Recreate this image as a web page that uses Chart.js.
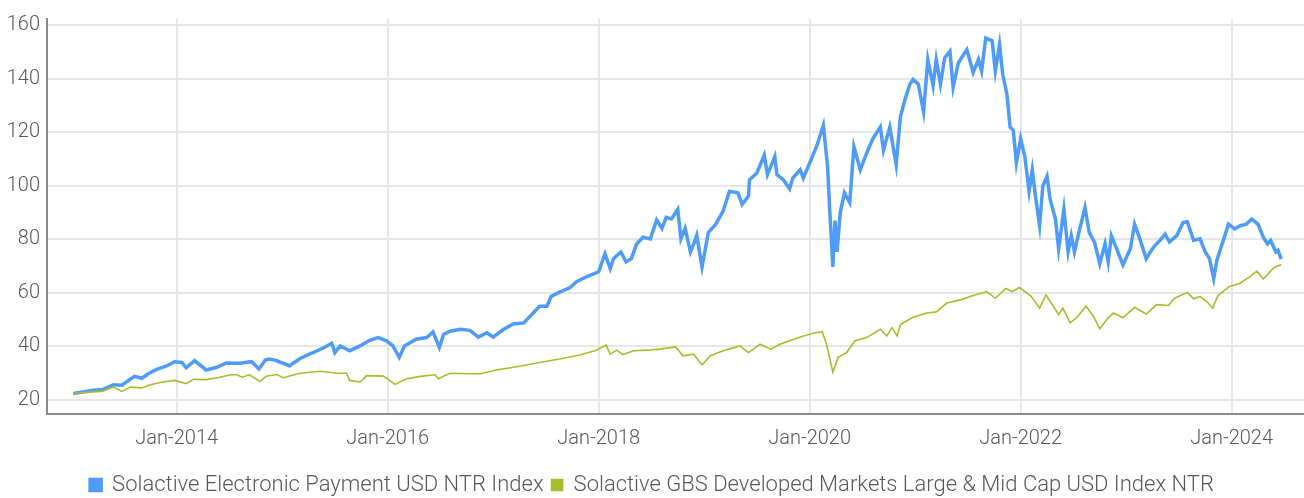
<!DOCTYPE html>
<html>
<head>
<meta charset="utf-8">
<title>Solactive Electronic Payment vs GBS DM</title>
<script src="https://cdn.jsdelivr.net/npm/chart.js@4.4.1/dist/chart.umd.min.js"></script>
<style>
  html, body { margin: 0; padding: 0; background: #fff; }
  #wrap { width: 1304px; height: 498px; position: relative; }
</style>
</head>
<body>
<div id="wrap"><canvas id="chart"></canvas></div>
<script>
// dates are decimal years
const blueDates = [
  2013.02, 2013.21, 2013.30, 2013.40, 2013.48, 2013.60, 2013.67, 2013.73, 2013.81, 2013.91,
  2013.98, 2014.05, 2014.09, 2014.17, 2014.28, 2014.38, 2014.47, 2014.60, 2014.71, 2014.78,
  2014.84, 2014.88, 2014.95, 2014.98, 2015.07, 2015.17, 2015.26, 2015.39, 2015.47, 2015.50,
  2015.55, 2015.64, 2015.74, 2015.83, 2015.91, 2015.99, 2016.05, 2016.11, 2016.16, 2016.27,
  2016.37, 2016.43, 2016.49, 2016.53, 2016.59, 2016.69, 2016.78, 2016.86, 2016.94, 2017.00,
  2017.10, 2017.19, 2017.29, 2017.38, 2017.44, 2017.51, 2017.55, 2017.63, 2017.73, 2017.79,
  2017.90, 2018.00, 2018.06, 2018.11, 2018.14, 2018.21, 2018.26, 2018.31, 2018.36, 2018.42,
  2018.49, 2018.55, 2018.60, 2018.64, 2018.69, 2018.75, 2018.78, 2018.82, 2018.87, 2018.90,
  2018.93, 2018.98, 2019.04, 2019.11, 2019.18, 2019.24, 2019.32, 2019.36, 2019.42, 2019.43,
  2019.50, 2019.57, 2019.60, 2019.67, 2019.69, 2019.75, 2019.81, 2019.84, 2019.91, 2019.94,
  2020.00, 2020.07, 2020.13, 2020.17, 2020.19, 2020.22, 2020.24, 2020.26, 2020.29, 2020.33,
  2020.38, 2020.42, 2020.48, 2020.54, 2020.60, 2020.67, 2020.70, 2020.76, 2020.82, 2020.86,
  2020.90, 2020.95, 2020.98, 2021.03, 2021.08, 2021.12, 2021.17, 2021.20, 2021.24, 2021.28,
  2021.33, 2021.36, 2021.41, 2021.49, 2021.55, 2021.60, 2021.63, 2021.67, 2021.73, 2021.76,
  2021.80, 2021.83, 2021.87, 2021.90, 2021.93, 2021.96, 2022.00, 2022.04, 2022.08, 2022.11,
  2022.14, 2022.18, 2022.21, 2022.25, 2022.28, 2022.33, 2022.36, 2022.41, 2022.45, 2022.48,
  2022.51, 2022.56, 2022.61, 2022.65, 2022.70, 2022.75, 2022.80, 2022.83, 2022.86, 2022.91,
  2022.97, 2023.04, 2023.08, 2023.13, 2023.19, 2023.26, 2023.32, 2023.37, 2023.41, 2023.48,
  2023.54, 2023.58, 2023.64, 2023.70, 2023.75, 2023.79, 2023.83, 2023.86, 2023.91, 2023.97,
  2024.03, 2024.08, 2024.14, 2024.19, 2024.25, 2024.30, 2024.34, 2024.37, 2024.42, 2024.44,
  2024.47
];
const blueValues = [
  22.3, 23.5, 23.8, 25.6, 25.4, 28.7, 28.0, 29.7, 31.3, 32.7,
  34.2, 33.9, 31.9, 34.6, 31.1, 32.1, 33.7, 33.6, 34.2, 31.5,
  34.8, 35.2, 34.6, 34.0, 32.7, 35.4, 37.0, 39.3, 41.1, 37.6,
  40.1, 38.3, 40.1, 42.2, 43.2, 42.0, 40.1, 35.8, 40.1, 42.6,
  43.2, 45.3, 39.5, 44.4, 45.6, 46.3, 45.9, 43.4, 45.0, 43.4,
  46.3, 48.3, 48.7, 52.4, 54.9, 54.9, 58.6, 60.2, 61.9, 64.1,
  66.2, 67.8, 74.5, 69.0, 72.7, 75.2, 71.5, 72.7, 78.2, 80.7,
  80.1, 87.2, 84.0, 88.1, 87.5, 91.1, 80.1, 84.0, 75.2, 78.0,
  81.5, 69.6, 82.5, 85.6, 90.5, 97.9, 97.3, 93.0, 96.1, 102.2,
  104.7, 111.4, 104.1, 110.8, 104.1, 102.2, 98.8, 102.8, 105.9, 102.8,
  108.4, 115.1, 122.5, 107.2, 91.1, 69.6, 86.9, 75.2, 89.9, 97.3,
  93.6, 114.5, 105.9, 112.1, 117.6, 121.9, 113.3, 121.9, 107.8, 125.6,
  131.7, 137.9, 139.7, 137.9, 127.5, 147.1, 137.3, 147.1, 137.9, 147.7,
  150.2, 136.7, 145.9, 150.8, 142.2, 147.1, 142.8, 155.1, 154.1, 142.8,
  152.7, 141.6, 134.2, 121.9, 120.7, 108.4, 117.6, 110.8, 97.9, 105.9,
  96.1, 85.0, 99.8, 103.5, 94.8, 87.5, 76.4, 91.1, 75.2, 81.3,
  75.2, 83.8, 91.8, 82.5, 78.9, 70.8, 78.2, 71.5, 81.3, 76.4,
  70.3, 76.4, 85.6, 80.1, 72.7, 77.0, 79.5, 81.9, 78.9, 81.3,
  86.2, 86.5, 79.5, 80.1, 75.2, 72.7, 65.3, 72.1, 78.2, 85.6,
  83.8, 85.0, 85.6, 87.5, 85.6, 80.7, 78.2, 79.5, 75.2, 75.8,
  72.5
];

const greenDates = [
  2013.02, 2013.30, 2013.40, 2013.48, 2013.56, 2013.67, 2013.75, 2013.87, 2013.98, 2014.09,
  2014.16, 2014.28, 2014.41, 2014.51, 2014.57, 2014.62, 2014.69, 2014.79, 2014.85, 2014.95,
  2015.01, 2015.17, 2015.36, 2015.52, 2015.61, 2015.64, 2015.74, 2015.80, 2015.96, 2016.07,
  2016.18, 2016.31, 2016.45, 2016.48, 2016.59, 2016.78, 2016.88, 2017.03, 2017.25, 2017.44,
  2017.63, 2017.82, 2017.98, 2018.07, 2018.11, 2018.17, 2018.23, 2018.33, 2018.46, 2018.58,
  2018.73, 2018.80, 2018.90, 2018.98, 2019.06, 2019.18, 2019.34, 2019.42, 2019.53, 2019.63,
  2019.72, 2019.82, 2019.94, 2020.05, 2020.12, 2020.16, 2020.22, 2020.27, 2020.35, 2020.43,
  2020.54, 2020.67, 2020.73, 2020.78, 2020.83, 2020.86, 2020.98, 2021.11, 2021.20, 2021.30,
  2021.43, 2021.55, 2021.68, 2021.76, 2021.86, 2021.92, 2021.99, 2022.04, 2022.10, 2022.18,
  2022.24, 2022.31, 2022.36, 2022.40, 2022.47, 2022.53, 2022.62, 2022.69, 2022.75, 2022.83,
  2022.88, 2022.97, 2023.08, 2023.19, 2023.29, 2023.40, 2023.46, 2023.58, 2023.64, 2023.70,
  2023.77, 2023.82, 2023.87, 2023.98, 2024.08, 2024.17, 2024.24, 2024.30, 2024.40, 2024.47
];
const greenValues = [
  22.3, 23.2, 24.7, 23.1, 24.7, 24.4, 25.6, 26.6, 27.2, 26.0,
  27.6, 27.5, 28.4, 29.3, 29.3, 28.4, 29.3, 26.8, 28.8, 29.4,
  28.2, 29.9, 30.6, 29.9, 29.9, 27.2, 26.6, 29.0, 28.8, 25.7,
  27.8, 28.7, 29.3, 27.8, 29.9, 29.7, 29.7, 31.1, 32.5, 33.9,
  35.2, 36.7, 38.5, 40.4, 37.0, 38.5, 36.8, 38.3, 38.5, 38.9,
  39.7, 36.4, 37.0, 33.0, 36.4, 38.3, 40.1, 37.6, 40.7, 38.9,
  40.7, 42.2, 43.8, 45.0, 45.3, 40.7, 30.3, 35.8, 37.6, 42.0,
  43.2, 46.3, 43.8, 46.9, 43.8, 48.1, 50.8, 52.4, 52.8, 56.1,
  57.3, 58.9, 60.4, 57.9, 61.6, 60.4, 61.9, 60.4, 58.6, 54.2,
  59.2, 54.9, 51.8, 54.2, 48.7, 50.6, 54.9, 51.2, 46.5, 50.6,
  52.4, 50.6, 54.5, 52.0, 55.5, 55.2, 57.9, 60.1, 57.7, 58.6,
  56.5, 54.2, 58.9, 62.3, 63.5, 65.9, 68.0, 65.1, 69.3, 70.5
];

const yearTicks = [2014, 2016, 2018, 2020, 2022, 2024];
const valueTicks = [20, 40, 60, 80, 100, 120, 140, 160];

const blueName = "Solactive Electronic Payment USD NTR Index";
const greenName = "Solactive GBS Developed Markets Large & Mid Cap USD Index NTR";

const fontFamily = "Roboto, 'Liberation Sans', sans-serif";
const textColor = "#595959";
const gridColor = "#e6e6e6";

const ctx = document.getElementById("chart").getContext("2d");
new Chart(ctx, {
  type: "line",
  data: {
    datasets: [
      {
        label: blueName,
        data: blueDates.map((d, i) => ({ x: d, y: blueValues[i] })),
        borderColor: "#4e9cf7",
        backgroundColor: "#4e9cf7",
        borderWidth: 3.5,
        pointRadius: 0,
        tension: 0,
        order: 1,
      },
      {
        label: greenName,
        data: greenDates.map((d, i) => ({ x: d, y: greenValues[i] })),
        borderColor: "#a8bd2b",
        backgroundColor: "#a8bd2b",
        borderWidth: 1.6,
        pointRadius: 0,
        tension: 0,
        order: 0,
      },
    ],
  },
  options: {
    responsive: true,
    maintainAspectRatio: false,
    animation: false,
    // negative bottom padding pushes the legend a bit lower
    layout: { padding: { top: 14, right: 0, left: 0, bottom: -8 } },
    plugins: {
      tooltip: { enabled: false },
      legend: {
        position: "bottom",
        labels: {
          boxWidth: 11,
          boxHeight: 11,
          padding: 8,
          color: textColor,
          font: { family: fontFamily, size: 22, weight: 300 },
          // keep blue first even though green is drawn on top
          sort: (a, b) => a.datasetIndex - b.datasetIndex,
        },
      },
    },
    scales: {
      x: {
        type: "linear",
        min: 2012.771,
        max: 2024.686,
        afterBuildTicks: (scale) => {
          scale.ticks = yearTicks.map((v) => ({ value: v }));
        },
        afterFit: (scale) => {
          scale.height = 52;
        },
        ticks: {
          autoSkip: false,
          maxRotation: 0,
          padding: 13,
          color: textColor,
          font: { family: fontFamily, size: 20, weight: 300 },
          callback: (v) => "Jan-" + v,
        },
        grid: { color: gridColor, lineWidth: 2, drawTicks: false },
        border: { color: "#8c8c8c", width: 2 },
      },
      y: {
        min: 14.65,
        max: 162.25,
        afterBuildTicks: (scale) => {
          scale.ticks = valueTicks.map((v) => ({ value: v }));
        },
        afterFit: (scale) => {
          scale.width = 47;
        },
        ticks: {
          padding: 7,
          color: textColor,
          font: { family: fontFamily, size: 20, weight: 300 },
        },
        grid: { color: gridColor, lineWidth: 2, drawTicks: false },
        border: { color: "#8c8c8c", width: 2 },
      },
    },
  },
});
</script>
</body>
</html>
